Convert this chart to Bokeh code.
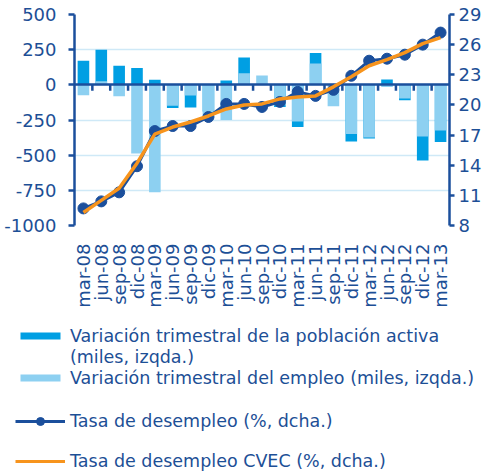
import numpy as np
from math import pi
from bokeh.plotting import figure
from bokeh.models import (Range1d, LinearAxis, FixedTicker, Legend, LegendItem, ColumnDataSource)
from bokeh.embed import file_html
from bokeh.resources import INLINE

quarters = ["mar-08", "jun-08", "sep-08", "dic-08", "mar-09", "jun-09", "sep-09", "dic-09",
            "mar-10", "jun-10", "sep-10", "dic-10", "mar-11", "jun-11", "sep-11", "dic-11",
            "mar-12", "jun-12", "sep-12", "dic-12", "mar-13"]
# Variación trimestral de la población activa (miles)
activa = [171, 250, 136, 119, 36, -164, -162, -190, 31, 195, 0, -157,
          -300, 226, 0, -402, -381, 38, -110, -538, -407]
# Variación trimestral del empleo (miles)
empleo = [-74, 26, -81, -488, -764, -148, -76, -236, -250, 83, 67, -145,
          -260, 152, -152, -350, -374, -16, -98, -367, -324]
# Tasa de desempleo (%)
tasa = [9.7, 10.4, 11.3, 13.9, 17.4, 17.9, 17.9, 18.8, 20.1, 20.1, 19.8, 20.3,
        21.3, 20.9, 21.5, 22.9, 24.4, 24.6, 25.0, 26.0, 27.2]
# Tasa de desempleo CVEC (%)
tasa_cvec = [9.3, 10.5, 11.7, 14.2, 17.1, 17.8, 18.3, 18.9, 19.6, 20.0, 20.1, 20.6,
             20.8, 20.9, 21.8, 22.8, 23.9, 24.5, 25.2, 26.1, 26.7]

left_ticks = [-1000, -750, -500, -250, 0, 250, 500]
left_labels = ["-1000", "-750", "-500", "-250", "0", "250", "500"]
right_ticks = [8, 11, 14, 17, 20, 23, 26, 29]

NAVY = "#1b4f9c"
TEXT = "#1d4f96"
DARK = "#009fe3"
LIGHT = "#8dd0f1"
ORANGE = "#f7941d"
GRID = "#cfe9f7"
FONT = "DejaVu Sans"
FS = "18px"
LFS = "17.5px"

x = list(range(len(quarters)))
src = ColumnDataSource(dict(x=x, activa=activa, empleo=empleo, tasa=tasa, cvec=tasa_cvec))

p = figure(width=484, height=310, x_range=Range1d(-0.5, len(quarters) - 0.5),
           y_range=Range1d(left_ticks[0], left_ticks[-1]),
           output_backend="svg", toolbar_location=None,
           min_border_left=74, min_border_top=14, min_border_bottom=0, min_border_right=2)
p.extra_y_ranges = {"rate": Range1d(right_ticks[0], right_ticks[-1])}
p.outline_line_color = None
p.background_fill_color = "white"

# axes
p.yaxis.ticker = FixedTicker(ticks=left_ticks)
p.yaxis.major_label_overrides = dict(zip(left_ticks, left_labels))
p.yaxis.axis_line_color = NAVY
p.yaxis.axis_line_width = 2.5
p.yaxis.major_tick_line_color = NAVY
p.yaxis.major_tick_line_width = 2.5
p.yaxis.major_tick_out = 6
p.yaxis.major_tick_in = 0
p.yaxis.minor_tick_line_color = None
p.yaxis.major_label_standoff = 12
p.yaxis.major_label_text_font = FONT
p.yaxis.major_label_text_font_size = FS
p.yaxis.major_label_text_color = TEXT

p.xaxis.ticker = FixedTicker(ticks=x)
p.xaxis.major_label_overrides = {i: q for i, q in enumerate(quarters)}
p.xaxis.major_label_orientation = pi / 2
p.xaxis.axis_line_color = None
p.xaxis.major_tick_line_color = None
p.xaxis.minor_tick_line_color = None
p.xaxis.major_label_standoff = 12
p.xaxis.major_label_text_font = FONT
p.xaxis.major_label_text_font_size = FS
p.xaxis.major_label_text_color = TEXT

rax = LinearAxis(y_range_name="rate", ticker=FixedTicker(ticks=right_ticks))
rax.axis_line_color = NAVY
rax.axis_line_width = 2.5
rax.major_tick_line_color = NAVY
rax.major_tick_line_width = 2.5
rax.major_tick_out = 5
rax.major_tick_in = 0
rax.minor_tick_line_color = None
rax.major_label_standoff = 4
rax.major_label_text_font = FONT
rax.major_label_text_font_size = FS
rax.major_label_text_color = TEXT
p.add_layout(rax, "right")

p.xgrid.visible = False
p.ygrid.ticker = FixedTicker(ticks=left_ticks)
p.ygrid.grid_line_color = GRID
p.ygrid.grid_line_width = 1.5

bw = 0.65
r_act = p.vbar(x="x", top="activa", bottom=0, width=bw, source=src,
               fill_color=DARK, line_color=None)
r_emp = p.vbar(x="x", top="empleo", bottom=0, width=bw, source=src,
               fill_color=LIGHT, line_color=None)

# zero line with category-boundary ticks
p.hspan(y=[0], line_color=NAVY, line_width=2.5)
bounds = np.arange(len(quarters) - 1) + 0.5
p.segment(x0=bounds, y0=0, x1=bounds, y1=-42, line_color=NAVY, line_width=2.5)

r_tl = p.line("x", "tasa", source=src, y_range_name="rate", line_color=NAVY, line_width=3)
r_ts = p.scatter("x", "tasa", source=src, y_range_name="rate", size=11,
                 fill_color=NAVY, line_color=NAVY)
r_cv = p.line("x", "cvec", source=src, y_range_name="rate", line_color=ORANGE, line_width=3.5)

# legend figure (its sample glyphs sit outside its visible ranges; only the legend shows)
LH = 163
lf = figure(width=484, height=LH, output_backend="svg", toolbar_location=None,
            min_border=0, x_range=Range1d(0, 1), y_range=Range1d(0, 1),
            x_axis_location=None, y_axis_location=None)
lf.grid.visible = False
lf.outline_line_color = None
dummy = ColumnDataSource(dict(x=[-5, -4], y=[-5, -4], t=[-5, -4]))
d1 = lf.vbar(x="x", top="t", bottom=-6, width=0.5, source=dummy, fill_color=DARK, line_color=None)
d0 = lf.vbar(x="x", top="t", bottom=-6, width=0.5, source=dummy, fill_alpha=0, line_alpha=0)
d2 = lf.vbar(x="x", top="t", bottom=-6, width=0.5, source=dummy, fill_color=LIGHT, line_color=None)
d3 = lf.line("x", "y", source=dummy, line_color=NAVY, line_width=3)
d4 = lf.scatter("x", "y", source=dummy, size=9, fill_color=NAVY, line_color=NAVY)
d5 = lf.line("x", "y", source=dummy, line_color=ORANGE, line_width=3)

def style(leg):
    leg.border_line_color = None
    leg.background_fill_alpha = 0
    leg.padding = 0
    leg.margin = 0
    leg.glyph_width = 50
    leg.label_standoff = 5
    leg.label_text_font = FONT
    leg.label_text_font_size = LFS
    leg.label_text_color = TEXT
    leg.orientation = "vertical"

leg1 = Legend(items=[
    LegendItem(label="Variación trimestral de la población activa", renderers=[d1]),
    LegendItem(label="(miles, izqda.)", renderers=[d0]),
    LegendItem(label="Variación trimestral del empleo (miles, izqda.)", renderers=[d2]),
], location=(15, 85))
style(leg1)
leg1.glyph_height = 9
leg1.label_height = 21
leg1.spacing = 0

leg2 = Legend(items=[
    LegendItem(label="Tasa de desempleo (%, dcha.)", renderers=[d3, d4]),
    LegendItem(label="Tasa de desempleo CVEC (%, dcha.)", renderers=[d5]),
], location=(15, 2))
style(leg2)
leg2.glyph_height = 20
leg2.label_height = 21
leg2.spacing = 19

lf.add_layout(leg1)
lf.add_layout(leg2)

open("out.html", "w").write(file_html([p, lf], INLINE))
